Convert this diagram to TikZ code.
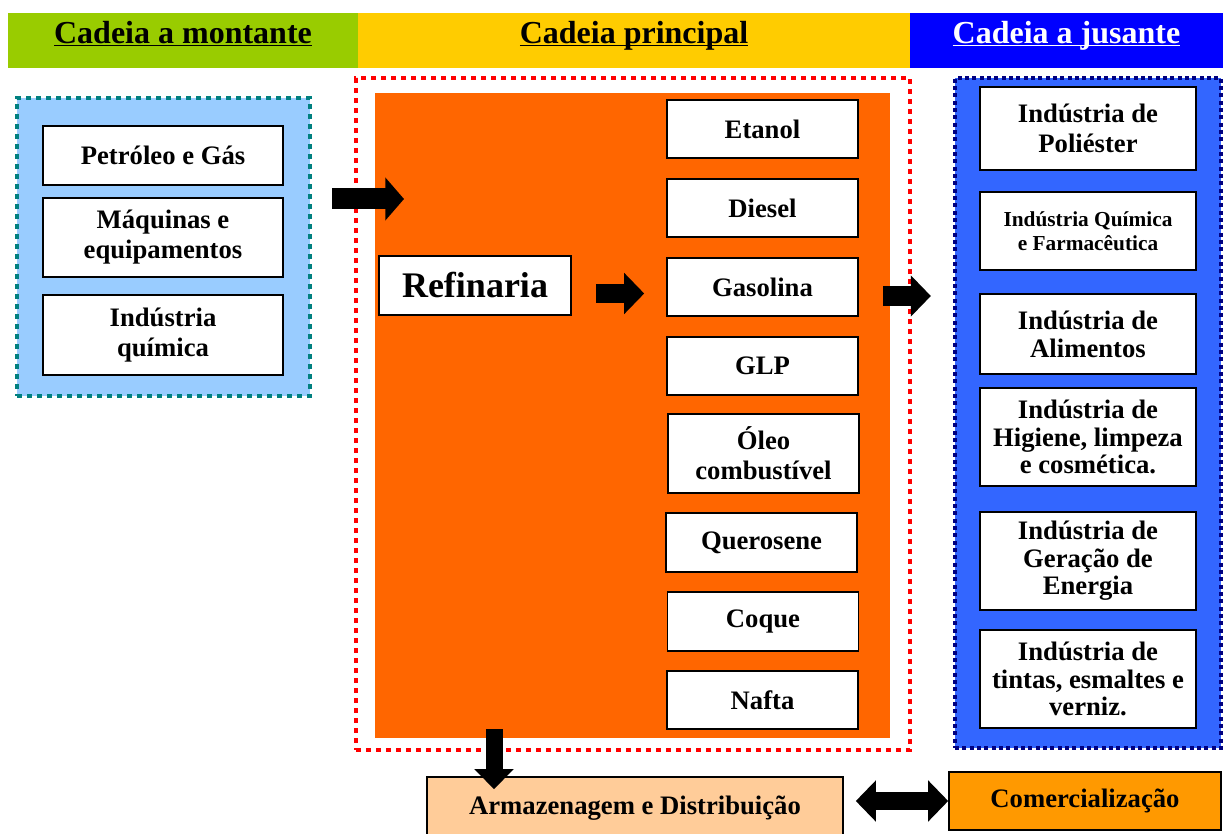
\documentclass[tikz,border=0pt]{standalone}
\usepackage{fontspec}
\setmainfont{Liberation Serif}
\usetikzlibrary{arrows.meta,calc}

\definecolor{upgreen}{RGB}{153,204,0}
\definecolor{mainyellow}{RGB}{255,204,0}
\definecolor{downblue}{RGB}{0,0,255}
\definecolor{upfill}{RGB}{153,204,255}
\definecolor{upborder}{RGB}{0,128,128}
\definecolor{refinorange}{RGB}{255,102,0}
\definecolor{downfill}{RGB}{51,102,255}
\definecolor{downborder}{RGB}{0,0,128}
\definecolor{armazfill}{RGB}{255,204,153}
\definecolor{comercfill}{RGB}{255,153,0}

\begin{document}
\begin{tikzpicture}[x=0.75pt,y=0.75pt,yscale=-1,xscale=1,
	header/.style={minimum height=41.25pt, inner sep=0pt, text height=10pt, text depth=5.6pt, font=\bfseries\fontsize{24}{28}\selectfont},
	group/.style={line width=3pt, dash pattern=on 3.5pt off 4pt, inner sep=0pt},
	itembox/.style={draw=black, line width=1.2pt, fill=white, inner sep=2pt, align=center, font=\bfseries\fontsize{20}{22.5}\selectfont},
	blockarrow/.style={line width=15pt, -{Triangle[length=15pt,width=30pt]}}]
	\useasboundingbox (0,0) rectangle (1223,834);
	\clip (0,0) rectangle (1223,834);
	% cabecalhos
	\node [header, fill=upgreen, minimum width=262.5pt] (hmontante) at (183,40.5) {\underline{\smash{Cadeia a montante}}};
	\node [header, fill=mainyellow, minimum width=414pt] (hprincipal) at (634,40.5) {\underline{\smash{Cadeia principal}}};
	\node [header, fill=downblue, text=white, minimum width=234.75pt] (hjusante) at (1066.5,40.5) {\underline{\smash{Cadeia a jusante}}};
	% cadeia a montante
	\node [group, draw=upborder, fill=upfill, minimum width=219.75pt, minimum height=223.5pt] (upgroup) at (163.5,247) {};
	\node [itembox, minimum width=180pt, minimum height=44.25pt] (petroleo) at (163,155.5) {Petróleo e Gás};
	\node [itembox, minimum width=180pt, minimum height=59.25pt] (maquinas) at (163,237.5) {Máquinas e\\equipamentos};
	\node [itembox, minimum width=180pt, minimum height=60pt] (quimica) at (163,335) {Indústria\\química};
	% cadeia principal
	\node [group, draw=red, minimum width=415.5pt, minimum height=504pt] (maingroup) at (633,414) {};
	\node [fill=refinorange, inner sep=0pt, minimum width=386.25pt, minimum height=483.75pt] (orange) at (632.5,415.5) {};
	\node [itembox, minimum width=144pt, minimum height=44.25pt, font=\bfseries\fontsize{27}{30}\selectfont] (refinaria) at (475,285.5) {Refinaria};
	\node [itembox, minimum width=143.25pt, minimum height=43.5pt] (etanol) at (762.5,129) {Etanol};
	\node [itembox, minimum width=143.25pt, minimum height=43.5pt] (diesel) at (762.5,208) {Diesel};
	\node [itembox, minimum width=143.25pt, minimum height=43.5pt] (gasolina) at (762.5,287) {Gasolina};
	\node [itembox, minimum width=143.25pt, minimum height=43.5pt] (glp) at (762.5,366) {GLP};
	\node [itembox, minimum width=143.25pt, minimum height=59.25pt] (oleo) at (763.5,453.5) {Óleo\\combustível};
	\node [itembox, minimum width=143.25pt, minimum height=44.25pt] (querosene) at (761.5,542.5) {Querosene};
	\node [itembox, minimum width=143.25pt, minimum height=44.25pt] (coque) at (763,621.5) {Coque};
	\node [itembox, minimum width=143.25pt, minimum height=43.5pt] (nafta) at (762.5,700) {Nafta};
	% cadeia a jusante
	\node [group, draw=downborder, fill=downfill, line width=3.2pt, dash pattern=on 3pt off 2.5pt, minimum width=199.5pt, minimum height=502.5pt] (downgroup) at (1088,413) {};
	\node [itembox, minimum width=162pt, minimum height=62.25pt] (poliester) at (1088,128.5) {Indústria de\\Poliéster};
	\node [itembox, minimum width=162pt, minimum height=58.5pt, font=\bfseries\fontsize{16}{18}\selectfont] (farma) at (1088,231) {Indústria Química\\e Farmacêutica};
	\node [itembox, minimum width=162pt, minimum height=60pt, font=\bfseries\fontsize{20}{21}\selectfont] (alimentos) at (1088,334) {Indústria de\\Alimentos};
	\node [itembox, minimum width=162pt, minimum height=73.5pt, font=\bfseries\fontsize{20}{20.5}\selectfont] (higiene) at (1088,437) {Indústria de\\Higiene, limpeza\\e cosmética.};
	\node [itembox, minimum width=162pt, minimum height=73.5pt, font=\bfseries\fontsize{20}{20.5}\selectfont] (energia) at (1088,561) {Indústria de\\Geração de\\Energia};
	\node [itembox, minimum width=162pt, minimum height=73.5pt, font=\bfseries\fontsize{20}{20.5}\selectfont] (tintas) at (1088,679) {Indústria de\\tintas, esmaltes e\\verniz.};
	% distribuicao
	\node [itembox, fill=armazfill, minimum width=312pt, minimum height=47.25pt] (armaz) at (635,808.5) {Armazenagem e Distribuição};
	\node [itembox, fill=comercfill, minimum width=204pt, minimum height=43.5pt] (comerc) at (1085,801) {Comercialização};
	% setas
	\coordinate (in1) at (404,199);
	\draw [blockarrow, line width=15.75pt, -{Triangle[length=14pt,width=31.5pt]}, shorten <=15pt] (upgroup.east |- in1) -- (in1);
	\draw [blockarrow, line width=14.25pt, shorten <=18pt, shorten >=16.5pt] ($(refinaria.east)+(0,8)$) -- ($(refinaria.east -| gasolina.west)+(0,8)$);
	\coordinate (out1) at (883,296);
	\draw [blockarrow, shorten >=16.5pt] (out1) -- (downgroup.west |- out1);
	\coordinate (down1) at (494,729);
	\draw [blockarrow, line width=12.75pt, -{Triangle[length=15pt,width=28.5pt]}, shorten >=-9.75pt] (down1) -- (down1 |- armaz.north);
	\draw [line width=14pt, {Triangle[length=15pt,width=30pt]}-{Triangle[length=15pt,width=30pt]}, shorten <=9pt] (armaz.east |- comerc.west) -- (comerc.west);
\end{tikzpicture}
\end{document}
